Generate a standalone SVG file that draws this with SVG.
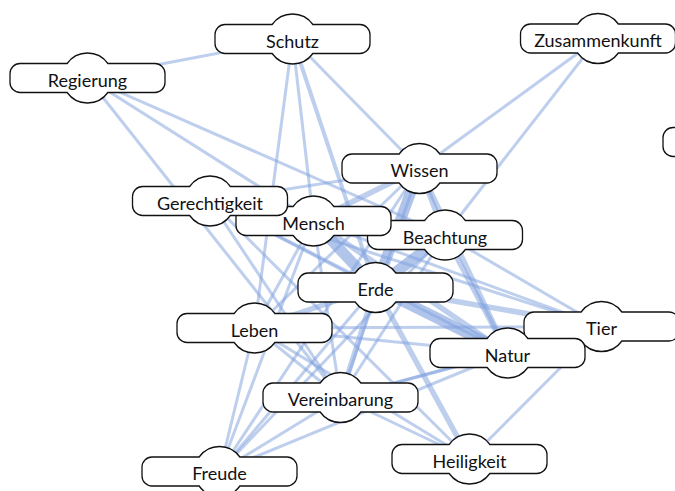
<svg xmlns="http://www.w3.org/2000/svg" width="675" height="491" viewBox="0 0 675 491">
<style>
.e{stroke:#7d9fdd;stroke-opacity:0.5;fill:none;stroke-linecap:round}
.t{stroke-width:3}
.m{stroke-width:5.5}
.k{stroke-width:11;stroke-opacity:0.6}
.box{fill:#fff;stroke:#111;stroke-width:1.3}
.lbl{font-family:Lato,"Open Sans","DejaVu Sans",sans-serif;font-size:18px;fill:#111;text-anchor:middle}
</style>
<defs>
<path id="shape" d="M -20.37,-14.5 A 25 25 0 0 1 20.37,-14.5 L 67.5,-14.5 A 10 10 0 0 1 77.5,-4.5 L 77.5,4.5 A 10 10 0 0 1 67.5,14.5 L 20.37,14.5 A 25 25 0 0 1 -20.37,14.5 L -67.5,14.5 A 10 10 0 0 1 -77.5,4.5 L -77.5,-4.5 A 10 10 0 0 1 -67.5,-14.5 Z"/>
</defs>
<rect width="675" height="491" fill="#fff"/>
<g id="connectors">
<line class="e t" x1="87.5" y1="78" x2="292.5" y2="39"/>
<line class="e t" x1="87.5" y1="78" x2="313.5" y2="221"/>
<line class="e t" x1="87.5" y1="78" x2="445" y2="235"/>
<line class="e t" x1="87.5" y1="78" x2="340.5" y2="397.5"/>
<line class="e t" x1="292.5" y1="39" x2="254.5" y2="328"/>
<line class="e t" x1="292.5" y1="39" x2="313.5" y2="221"/>
<line class="e" stroke-width="4" x1="292.5" y1="39" x2="375.5" y2="287.5"/>
<line class="e t" x1="292.5" y1="39" x2="419.5" y2="168.5"/>
<line class="e t" x1="598" y1="38.5" x2="419.5" y2="168.5"/>
<line class="e t" x1="598" y1="38.5" x2="445" y2="235"/>
<line class="e t" x1="210" y1="201" x2="419.5" y2="168.5"/>
<line class="e t" x1="210" y1="201" x2="445" y2="235"/>
<line class="e t" x1="210" y1="201" x2="375.5" y2="287.5"/>
<line class="e t" x1="210" y1="201" x2="507.5" y2="353"/>
<line class="e t" x1="210" y1="201" x2="601.5" y2="326.5"/>
<line class="e t" x1="210" y1="201" x2="340.5" y2="397.5"/>
<line class="e t" x1="210" y1="201" x2="469.5" y2="459"/>
<line class="e t" x1="254.5" y1="328" x2="507.5" y2="353"/>
<line class="e t" x1="254.5" y1="328" x2="601.5" y2="326.5"/>
<line class="e t" x1="254.5" y1="328" x2="340.5" y2="397.5"/>
<line class="e t" x1="254.5" y1="328" x2="469.5" y2="459"/>
<line class="e t" x1="254.5" y1="328" x2="313.5" y2="221"/>
<line class="e t" x1="254.5" y1="328" x2="419.5" y2="168.5"/>
<line class="e t" x1="254.5" y1="328" x2="219.5" y2="471.5"/>
<line class="e t" x1="340.5" y1="397.5" x2="313.5" y2="221"/>
<line class="e t" x1="340.5" y1="397.5" x2="419.5" y2="168.5"/>
<line class="e t" x1="340.5" y1="397.5" x2="445" y2="235"/>
<line class="e t" x1="340.5" y1="397.5" x2="507.5" y2="353"/>
<line class="e t" x1="340.5" y1="397.5" x2="601.5" y2="326.5"/>
<line class="e t" x1="340.5" y1="397.5" x2="469.5" y2="459"/>
<line class="e t" x1="340.5" y1="397.5" x2="219.5" y2="471.5"/>
<line class="e t" x1="219.5" y1="471.5" x2="313.5" y2="221"/>
<line class="e t" x1="219.5" y1="471.5" x2="375.5" y2="287.5"/>
<line class="e t" x1="219.5" y1="471.5" x2="419.5" y2="168.5"/>
<line class="e t" x1="219.5" y1="471.5" x2="445" y2="235"/>
<line class="e t" x1="219.5" y1="471.5" x2="507.5" y2="353"/>
<line class="e t" x1="469.5" y1="459" x2="601.5" y2="326.5"/>
<line class="e t" x1="601.5" y1="326.5" x2="445" y2="235"/>
<line class="e t" x1="601.5" y1="326.5" x2="313.5" y2="221"/>
<line class="e m" x1="375.5" y1="287.5" x2="254.5" y2="328"/>
<line class="e m" x1="313.5" y1="221" x2="419.5" y2="168.5"/>
<line class="e m" x1="313.5" y1="221" x2="507.5" y2="353"/>
<line class="e m" x1="419.5" y1="168.5" x2="507.5" y2="353"/>
<line class="e m" x1="419.5" y1="168.5" x2="445" y2="235"/>
<line class="e m" x1="445" y1="235" x2="507.5" y2="353"/>
<line class="e m" x1="375.5" y1="287.5" x2="601.5" y2="326.5"/>
<line class="e m" x1="375.5" y1="287.5" x2="340.5" y2="397.5"/>
<line class="e m" x1="313.5" y1="221" x2="445" y2="235"/>
<line class="e m" x1="375.5" y1="287.5" x2="469.5" y2="459"/>
<line class="e k" x1="419.5" y1="168.5" x2="375.5" y2="287.5"/>
<line class="e k" x1="313.5" y1="221" x2="375.5" y2="287.5"/>
<line class="e k" x1="375.5" y1="287.5" x2="445" y2="235"/>
<line class="e k" x1="375.5" y1="287.5" x2="507.5" y2="353"/>
</g>
<g id="n-regierung" transform="translate(87.5,78)"><use href="#shape" class="box"/><text class="lbl" y="8.5">Regierung</text></g>
<g id="n-schutz" transform="translate(292.5,39)"><use href="#shape" class="box"/><text class="lbl" y="8.5">Schutz</text></g>
<g id="n-zusammenkunft" transform="translate(598,38.5)"><use href="#shape" class="box"/><text class="lbl" y="8.5">Zusammenkunft</text></g>
<g id="n-offscreen" transform="translate(740.5,142)"><use href="#shape" class="box"/></g>
<g id="n-wissen" transform="translate(419.5,168.5)"><use href="#shape" class="box"/><text class="lbl" y="8.5">Wissen</text></g>
<g id="n-beachtung" transform="translate(445,235)"><use href="#shape" class="box"/><text class="lbl" y="8.5">Beachtung</text></g>
<g id="n-mensch" transform="translate(313.5,221)"><use href="#shape" class="box"/><text class="lbl" y="8.5">Mensch</text></g>
<g id="n-gerechtigkeit" transform="translate(210,201)"><use href="#shape" class="box"/><text class="lbl" y="8.5">Gerechtigkeit</text></g>
<g id="n-erde" transform="translate(375.5,287.5)"><use href="#shape" class="box"/><text class="lbl" y="8.5">Erde</text></g>
<g id="n-leben" transform="translate(254.5,328)"><use href="#shape" class="box"/><text class="lbl" y="8.5">Leben</text></g>
<g id="n-tier" transform="translate(601.5,326.5)"><use href="#shape" class="box"/><text class="lbl" y="8.5">Tier</text></g>
<g id="n-natur" transform="translate(507.5,353)"><use href="#shape" class="box"/><text class="lbl" y="8.5">Natur</text></g>
<g id="n-vereinbarung" transform="translate(340.5,397.5)"><use href="#shape" class="box"/><text class="lbl" y="8.5">Vereinbarung</text></g>
<g id="n-freude" transform="translate(219.5,471.5)"><use href="#shape" class="box"/><text class="lbl" y="8.5">Freude</text></g>
<g id="n-heiligkeit" transform="translate(469.5,459)"><use href="#shape" class="box"/><text class="lbl" y="8.5">Heiligkeit</text></g>
</svg>
